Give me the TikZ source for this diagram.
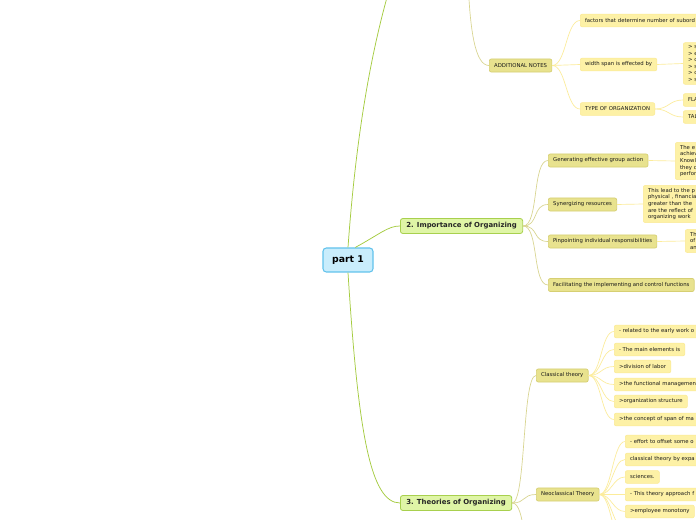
\documentclass[tikz,border=0pt]{standalone}
\usepackage{fontspec}
\setmainfont{DejaVu Sans}
\usepackage{xcolor}
\definecolor{rootfill}{HTML}{C9EDFC}
\definecolor{rootline}{HTML}{62C2EC}
\definecolor{mainfill}{HTML}{DFF5A6}
\definecolor{mainline}{HTML}{A8D04E}
\definecolor{subfill}{HTML}{E8E28E}
\definecolor{subline}{HTML}{D6CF72}
\definecolor{leaffill}{HTML}{FDF1A6}
\definecolor{leafline}{HTML}{FBEA94}
\definecolor{linkA}{HTML}{A4CB3E}
\definecolor{linkB}{HTML}{D8D48E}
\definecolor{linkC}{HTML}{FCEC9A}

\begin{document}
\begin{tikzpicture}[x=0.75pt,y=-0.75pt,
  curvy/.style={to path={.. controls +(#1,0) and +(-#1,0) .. (\tikztotarget) \tikztonodes}},
  curvy/.default=14]
\useasboundingbox (0,0) rectangle (696,520);
\clip (0,0) rectangle (696,520);
\fill[white] (0,0) rectangle (696,520);

% centre topic and main topics
\node[draw=rootline, fill=rootfill, line width=0.8pt, rounded corners=2.5pt,
  minimum width=37.5pt, minimum height=18pt, font=\fontsize{7}{8}\bfseries\selectfont]
  (p1) at (348,260) {part 1};
\begin{scope}[every node/.style={draw=mainline, fill=mainfill, line width=0.6pt, anchor=west,
  rounded corners=1.8pt, minimum height=11.2pt, inner xsep=4.4pt, inner ysep=1pt,
  text=black!85, font=\fontsize{5.2}{6}\bfseries\selectfont}]
  \node (imp) at (400,226) {2. Importance of Organizing};
  \node (thr) at (400,503) {3. Theories of Organizing};
\end{scope}

% subtopics
\begin{scope}[every node/.style={draw=subline, fill=subfill, line width=0.5pt, anchor=west,
  rounded corners=1.5pt, minimum height=9.8pt, inner xsep=3.6pt, inner ysep=1pt,
  text=black!90, font=\fontsize{4}{4.8}\selectfont}]
  \node (add) at (489,65.5) {ADDITIONAL NOTES};
  \node (gen) at (548,160.5) {Generating effective group action};
  \node (syn) at (548,204.5) {Synergizing resources};
  \node (pin) at (548,241.5) {Pinpointing individual responsibilities};
  \node (fac) at (548,285) {Facilitating the implementing and control functions};
  \node (cla) at (536,375.5) {Classical theory};
  \node (neo) at (536,494.5) {Neoclassical Theory};
\end{scope}

% notes
\begin{scope}[every node/.style={draw=leafline, fill=leaffill, line width=0.4pt, anchor=west,
  rounded corners=1.5pt, minimum height=9.6pt, inner xsep=3.6pt, inner ysep=1.2pt,
  text=black!90, font=\fontsize{4}{4.9}\selectfont},
  cut/.style={text width=110pt, align=left}]
  \node[cut] (fct) at (580,20.5) {factors that determine number of subord};
  \node (wid) at (580,64.5) {width span is effected by};
  \node[cut, inner ysep=2.2pt] (wlist) at (683,63.5) {> s\\> e\\> c\\> s\\> c\\> s};
  \node (typ) at (580,109) {TYPE OF ORGANIZATION};
  \node[cut] (fla) at (683,100) {FLA};
  \node[cut] (tal) at (683,117) {TAL};
  \node[cut, inner ysep=2.2pt] (n1) at (675,161) {The e\\achiev\\Knowl\\they c\\perfor};
  \node[cut, inner ysep=2.2pt] (n2) at (643,204) {This lead to the p\\physical , financia\\greater than the \\are the reflect of\\organizing work};
  \node[cut, inner ysep=2.2pt] (n3) at (685,241) {Th\\of\\an};
  \node[cut] (c1) at (614,331.5) {- related to the early work o};
  \node (c2) at (614,349.5) {- The main elements is};
  \node (c3) at (614,366.5) {>division of labor};
  \node[cut] (c4) at (614,384.5) {>the functional managemen};
  \node (c5) at (614,401.5) {>organization structure};
  \node[cut] (c6) at (614,419.5) {>the concept of span of ma};
  \node[cut] (k1) at (625,441.5) {- effort to offset some o};
  \node[cut] (k2) at (625,459.5) {classical theory by expa};
  \node (k3) at (625,477) {sciences.};
  \node[cut] (k4) at (625,494.5) {- This theory approach f};
  \node (k5) at (625,511.5) {>employee monotony};
\end{scope}
\coordinate (top1) at (392,-20);
\coordinate (top2) at (468,-20);
\coordinate (thrnext) at (536,560);
\coordinate (k6) at (625,529.5);
\coordinate (k7) at (625,547.5);

% links from the centre
\path [draw=linkA, line width=0.55pt] (p1.north) .. controls (355,150) and (368,60) .. (top1);
\path [draw=linkA, line width=0.55pt] (p1.60) .. controls (380,234) and (388,226) .. (imp.west);
\path [draw=linkA, line width=0.55pt] (p1.south) .. controls (358,430) and (370,503) .. (thr.west);

% links to subtopics
\path [draw=linkB, line width=0.5pt] (top2) .. controls (470,30) and (475,65.5) .. (add.west);
\foreach \t in {gen,syn,pin,fac}
  \path [draw=linkB, line width=0.5pt] (imp.east) edge[curvy=16] (\t.west);
\foreach \t in {cla,neo}
  \path [draw=linkB, line width=0.5pt] (thr.east) edge[curvy=14] (\t.west);
\path [draw=linkB, line width=0.5pt] (thr.east) edge[curvy=14] (thrnext);

% links to notes
\begin{scope}[draw=linkC, line width=0.5pt]
  \foreach \t in {fct,wid,typ}
    \path (add.east) edge[curvy=14] (\t.west);
  \path (wid.east) edge (wlist.west);
  \foreach \t in {fla,tal}
    \path (typ.east) edge[curvy=14] (\t.west);
  \path (gen.east) edge (n1.west);
  \path (syn.east) edge (n2.west);
  \path (pin.east) edge (n3.west);
  \foreach \t in {c1,c2,c3,c4,c5,c6}
    \path (cla.east) edge[curvy=13] (\t.west);
  \foreach \t in {k1,k2,k3,k4,k5}
    \path (neo.east) edge[curvy=12] (\t.west);
  \foreach \t in {k6,k7}
    \path (neo.east) edge[curvy=12] (\t);
\end{scope}
\end{tikzpicture}
\end{document}
